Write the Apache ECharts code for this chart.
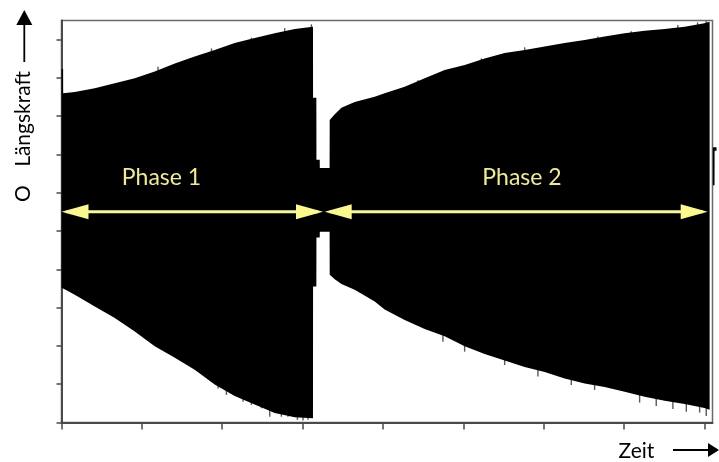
<!DOCTYPE html>
<html><head><meta charset="utf-8">
<script src="https://cdn.jsdelivr.net/npm/echarts@6/dist/echarts.min.js"></script>
<style>html,body{margin:0;padding:0;background:#fff}#c{width:719px;height:462px}</style>
</head><body><div id="c"></div>
<script>
// Envelope of the force signal (time in tick units, force in tick units)
const signalX = [0.000,0.020,0.021,0.165,0.414,0.663,0.912,1.160,1.410,1.657,1.906,2.155,2.404,2.653,2.902,3.129,
  3.130,3.171,3.172,3.213,3.214,3.336,
  3.337,3.400,3.483,3.648,3.897,4.021,4.270,4.519,4.768,5.017,5.265,5.514,5.763,6.012,6.260,6.510,6.758,7.007,7.256,7.505,7.754,8.000,8.064];
const signalUpper = [9.23,9.23,8.60,8.63,8.73,8.86,8.99,9.17,9.38,9.56,9.73,9.91,10.04,10.17,10.28,10.34,
  8.48,8.48,6.86,6.86,6.65,6.65,
  7.90,8.05,8.22,8.37,8.51,8.60,8.77,8.99,9.21,9.34,9.51,9.65,9.73,9.82,9.91,9.99,10.08,10.17,10.23,10.28,10.34,10.43,10.47];
const signalLower = [3.51,3.50,3.50,3.34,3.03,2.73,2.38,1.99,1.69,1.38,0.99,0.69,0.47,0.25,0.14,0.11,
  3.55,3.55,4.83,4.83,4.98,4.98,
  3.86,3.74,3.62,3.47,3.16,2.95,2.68,2.44,2.25,1.99,1.79,1.62,1.45,1.32,1.15,1.02,0.93,0.80,0.67,0.57,0.48,0.38,0.33];

// Start of the next phase, just past the right frame
const tailX = [8.105,8.125,8.126,8.15];
const tailUpper = [7.19,7.19,7.19,7.19];
const tailLower = [6.20,6.20,7.10,7.10];

// Single oscillation peaks sticking out of the envelope
const upperSpikeX = [1.201,1.866,2.363,2.777,3.109,4.435,5.224,5.763,6.674,7.089,7.669,7.914,8.022];
const upperSpikeTip = [9.29,9.77,10.05,10.30,10.40,8.94,9.51,9.80,10.08,10.22,10.38,10.45,10.49];
const lowerSpikeX = [1.948,2.052,2.259,2.363,2.488,2.591,2.736,2.818,2.935,3.005,3.067,
  4.746,5.016,5.514,5.928,6.343,6.633,7.193,7.400,7.607,7.774,7.940,8.022];
const lowerSpikeTip = [0.89,0.72,0.54,0.46,0.37,0.15,0.15,0.15,0.07,0.05,0.07,
  2.11,1.85,1.50,1.20,0.98,0.85,0.52,0.43,0.35,0.28,0.26,0.17];

// Phase arrows and labels
const phaseNames = ['Phase 1', 'Phase 2'];
const phaseStart = [0, 3.275];
const phaseEnd = [3.254, 8.04];
const phaseArrowY = [5.505, 5.505];
const phaseLabelX = [1.244, 5.73];
const phaseLabelY = [6.40, 6.40];

const xTicks = [0,1,2,3,4,5,6,7,8];
const yTicks = [0,1,2,3,4,5,6,7,8,9,10];

const yellow = '#fbf98c';
const chart = echarts.init(document.getElementById('c'), null, {renderer: 'canvas'});

const spikeData = upperSpikeX.map((x, i) => [x, upperSpikeTip[i], 1])
  .concat(lowerSpikeX.map((x, i) => [x, lowerSpikeTip[i], -1]));
const arrowData = phaseStart.map((s, i) => [s, phaseEnd[i], phaseArrowY[i]]);
const labelData = phaseNames.map((n, i) => [phaseLabelX[i], phaseLabelY[i], n]);
const bands = [[signalX, signalUpper, signalLower], [tailX, tailUpper, tailLower]];

const axisCol = '#4a4a4a';
chart.setOption({
  animation: false,
  grid: {left: 61.5, right: 6.5, top: 20.5, bottom: 39.5, show: true, borderColor: '#6a6a6a', borderWidth: 1.5},
  xAxis: {
    type: 'value', min: 0, max: 8.1,
    axisLine: {show: true, onZero: false, lineStyle: {color: axisCol, width: 2}},
    axisTick: {show: true, length: 7, customValues: xTicks, lineStyle: {color: axisCol, width: 1.5}},
    axisLabel: {show: false}, splitLine: {show: false}
  },
  yAxis: {
    type: 'value', min: 0, max: 10.5,
    axisLine: {show: true, onZero: false, lineStyle: {color: axisCol, width: 2}},
    axisTick: {show: true, length: 5, customValues: yTicks, lineStyle: {color: axisCol, width: 1.5}},
    axisLabel: {show: false}, splitLine: {show: false}
  },
  series: [
    {
      type: 'custom', z: 1, silent: true,
      data: spikeData,
      renderItem: function (params, api) {
        const x = api.value(0), tip = api.value(1), dir = api.value(2);
        const p1 = api.coord([x, tip]);
        const p2 = api.coord([x, tip - dir * 0.5]);
        return {type: 'line', shape: {x1: p1[0], y1: p1[1], x2: p2[0], y2: p2[1]},
          style: {stroke: '#5a5a5a', lineWidth: 1.4}};
      }
    },
    {
      type: 'custom', z: 2, silent: true, clip: false,
      data: bands.map(b => [b[0][0], b[1][0]]),
      renderItem: function (params, api) {
        const b = bands[params.dataIndex];
        const xs = b[0], up = b[1], lo = b[2];
        const pts = [];
        for (let i = 0; i < xs.length; i++) pts.push(api.coord([xs[i], up[i]]));
        for (let i = xs.length - 1; i >= 0; i--) pts.push(api.coord([xs[i], lo[i]]));
        return {type: 'polygon', shape: {points: pts}, style: {fill: '#000'}};
      }
    },
    {
      type: 'custom', z: 5, silent: true,
      data: arrowData,
      renderItem: function (params, api) {
        const a = api.coord([api.value(0), api.value(2)]);
        const b = api.coord([api.value(1), api.value(2)]);
        const L = 27, W = 7.5;
        return {type: 'group', children: [
          {type: 'line', shape: {x1: a[0] + 5, y1: a[1], x2: b[0] - 5, y2: b[1]}, style: {stroke: yellow, lineWidth: 3}},
          {type: 'polygon', shape: {points: [[a[0], a[1]], [a[0] + L, a[1] - W], [a[0] + L, a[1] + W]]}, style: {fill: yellow}},
          {type: 'polygon', shape: {points: [[b[0], b[1]], [b[0] - L, b[1] - W], [b[0] - L, b[1] + W]]}, style: {fill: yellow}}
        ]};
      }
    },
    {
      type: 'custom', z: 6, silent: true,
      data: labelData,
      renderItem: function (params, api) {
        const p = api.coord([api.value(0), api.value(1)]);
        return {type: 'text', x: p[0], y: p[1], style: {
          text: labelData[params.dataIndex][2], fill: '#f1ee84',
          fontSize: 23, fontFamily: 'Lato', align: 'center', verticalAlign: 'middle'}};
      }
    }
  ],
  graphic: [
    {type: 'text', x: 23, y: 119, rotation: Math.PI / 2,
      style: {text: 'Längskraft', fontSize: 21, fontFamily: 'Lato', fill: '#000', align: 'center', verticalAlign: 'middle'}},
    {type: 'text', x: 23, y: 193.5, rotation: Math.PI / 2,
      style: {text: 'O', fontSize: 21, fontFamily: 'Lato', fill: '#000', align: 'center', verticalAlign: 'middle'}},
    {type: 'line', shape: {x1: 24.3, y1: 62, x2: 24.3, y2: 22}, style: {stroke: '#000', lineWidth: 1.8}},
    {type: 'polygon', shape: {points: [[16.3, 25], [32.3, 25], [24.3, 10]]}, style: {fill: '#000'}},
    {type: 'text', x: 636.5, y: 451, style: {text: 'Zeit', fontSize: 21, fontFamily: 'Lato', fill: '#000', align: 'center', verticalAlign: 'middle'}},
    {type: 'line', shape: {x1: 673, y1: 450, x2: 710, y2: 450}, style: {stroke: '#000', lineWidth: 1.8}},
    {type: 'polygon', shape: {points: [[708, 443], [708, 457], [719, 450]]}, style: {fill: '#000'}}
  ]
});
</script>
</body></html>
